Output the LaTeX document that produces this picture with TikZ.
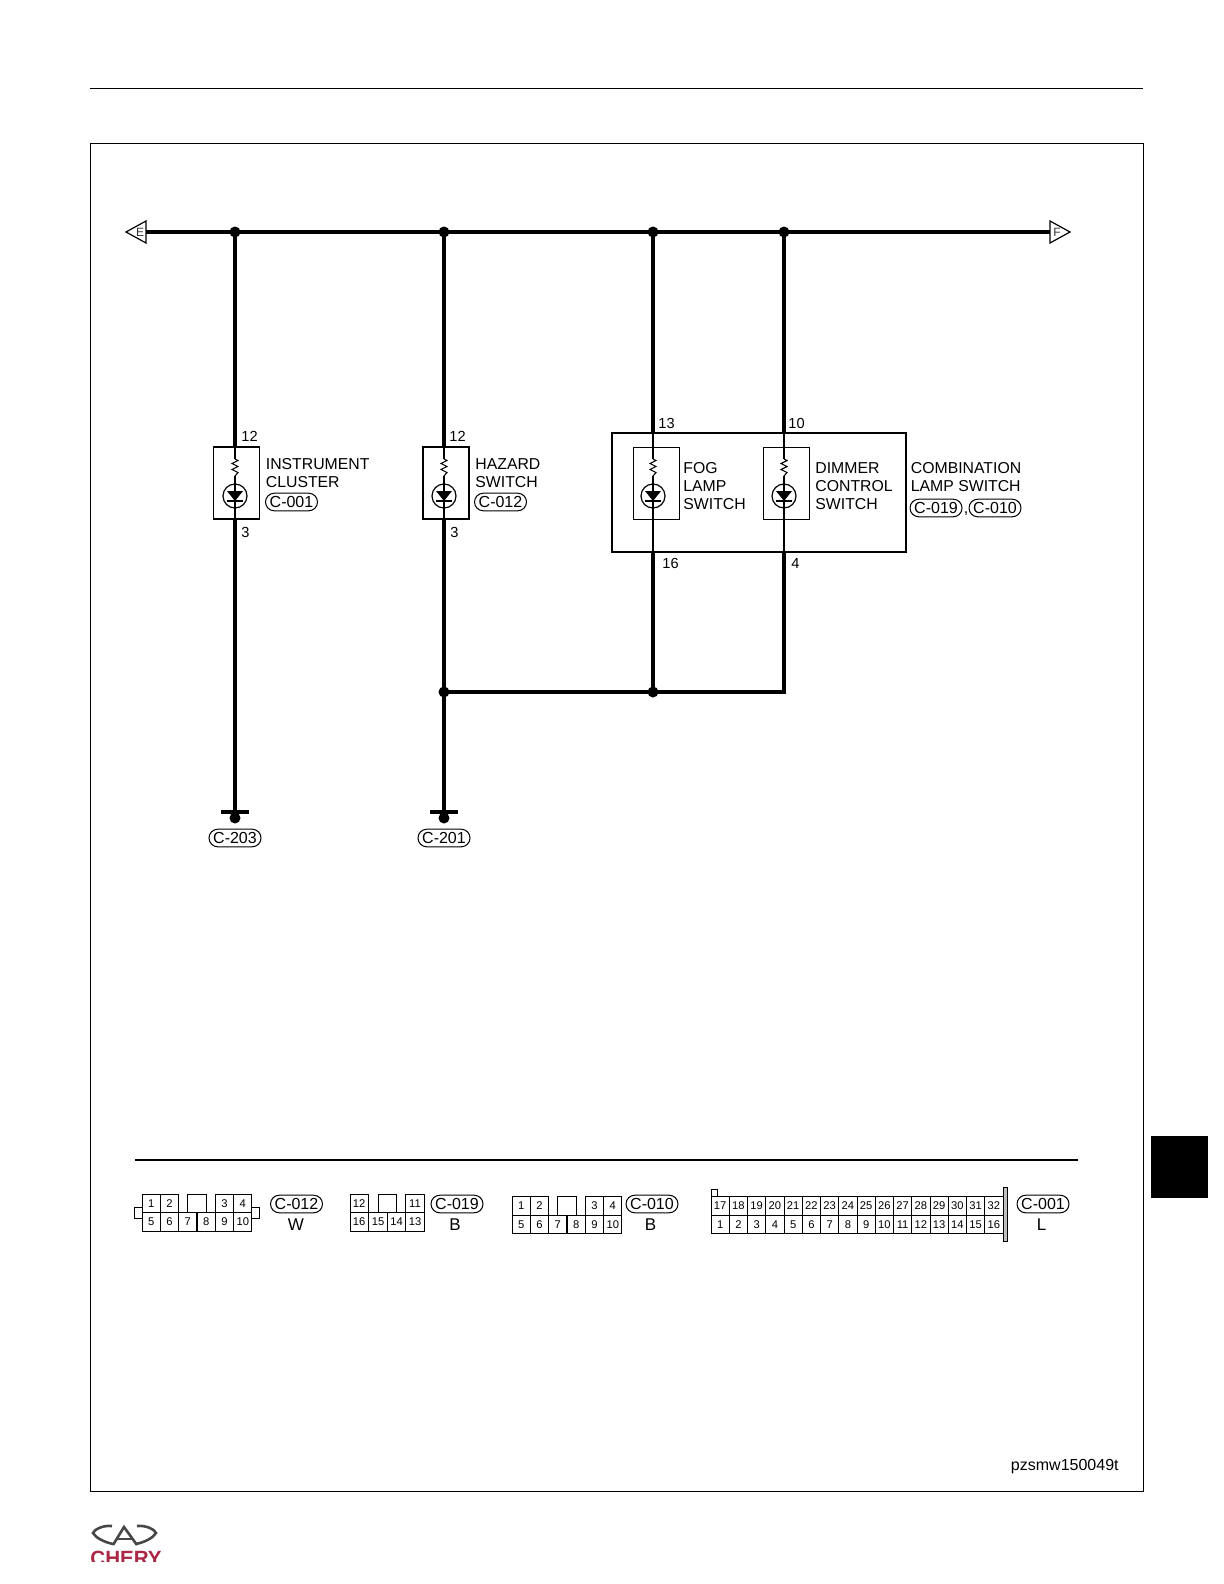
\documentclass[tikz,border=0pt]{standalone}
\usepackage{fontspec}
\setmainfont{Liberation Sans}
\definecolor{logogrey}{RGB}{70,72,72}
\definecolor{logored}{RGB}{170,40,70}

\begin{document}
\begin{tikzpicture}[x=0.5pt,y=-0.5pt]
  \tikzset{bus/.style={line width=2.1pt}};
  \tikzset{wire/.style={line width=1.6pt}};
  \tikzset{thin wire/.style={line width=0.55pt}};
  \tikzset{dot/.style={shape=circle,fill,inner sep=0,outer sep=0,minimum size=5.5pt}};
  \tikzset{lampbox/.style={draw,line width=0.8pt,minimum width=23pt,minimum height=36pt,inner sep=0}};
  \tikzset{txt/.style={anchor=west,inner sep=0,align=left,font=\fontsize{7.9}{9}\selectfont}};
  \tikzset{pin/.style={anchor=west,inner sep=0,font=\fontsize{7.3}{9}\selectfont}};
  \tikzset{tag/.style={draw,line width=0.5pt,rounded corners=4.4pt,minimum width=26pt,minimum height=8.8pt,inner sep=0,font=\fontsize{8}{9}\selectfont}};
  \tikzset{cell/.style={draw,line width=0.5pt,minimum width=9.17pt,minimum height=9.1pt,inner sep=0,font=\fontsize{5.6}{6}\selectfont}};
  \tikzset{letter/.style={inner sep=0,font=\fontsize{8.5}{9}\selectfont}};
  \tikzset{flag/.style={inner sep=0,font=\fontsize{6}{6}\selectfont,text=black!80}};
  \useasboundingbox (0,0) rectangle (1224,1584);
  % page
  \coordinate (ruleL) at (90,88);
  \coordinate (ruleR) at (1143,88);
  \draw[line width=0.45pt] (ruleL) -- (ruleR);
  \draw[line width=0.45pt] (90,143) rectangle (1143,1491);
  \fill (1151,1136) rectangle (1208,1198);
  % bus
  \node[flag] (E) at (140,232) {E};
  \node[flag] (F) at (1057,232) {F};
  \draw[line width=0.6pt] (146,221) -- (126,232) -- (146,243) -- cycle;
  \draw[line width=0.6pt] (1050,221) -- (1070,232) -- (1050,243) -- cycle;
  \coordinate (Eb) at (146,232);
  \coordinate (Fb) at (1050,232);
  \draw[bus] (Eb) -- (Fb);
  \node[dot] (Ja) at (235,232) {};
  \node[dot] (Jb) at (444,232) {};
  \node[dot] (Jc) at (653,232) {};
  \node[dot] (Jd) at (784,232) {};
  % boxes
  \node[lampbox] (IC) at (236.5,483) {};
  \node[lampbox] (HZ) at (446,483) {};
  \node[draw,line width=1.1pt,minimum width=147pt,minimum height=59.5pt,inner sep=0] (CL) at (759,492.5) {};
  \node[lampbox,line width=0.5pt] (FG) at (656,483) {};
  \node[lampbox,line width=0.5pt] (DM) at (786,483) {};
  % lamps
  \foreach \n/\x in {a/235,b/444,c/653,d/784}{
    \coordinate (\n r1) at (\x,459);
    \coordinate (\n r2) at (\x,476);
    \node[draw,shape=circle,line width=0.6pt,minimum size=12pt,inner sep=0] (\n L) at (\x,496) {};
    \draw[thin wire] (\n r1) -- ++(3,1.5) -- ++(-6,3) -- ++(6,3) -- ++(-6,3) -- ++(6,3) -- (\n r2);
    \draw[thin wire] (\n r2) -- (\n L.north);
    \fill (\x-8,491) -- (\x+8,491) -- (\x,501) -- cycle;
    \draw[line width=0.7pt] (\x-8,501) -- (\x+8,501);
  }
  % wires
  \coordinate (at) at (235,447);
  \coordinate (ab) at (235,519);
  \coordinate (bt) at (444,447);
  \coordinate (bb) at (444,519);
  \coordinate (ct) at (653,433);
  \coordinate (cb) at (653,552);
  \coordinate (dt) at (784,433);
  \coordinate (db) at (784,552);
  \coordinate (dj) at (784,692);
  \node[dot] (Gb) at (444,692) {};
  \node[dot] (Gc) at (653,692) {};
  \node[dot] (Ea) at (235,818) {};
  \node[dot] (Eb2) at (444,818) {};
  \draw[wire] (Ja.center) -- (at);
  \draw[wire] (Jb.center) -- (bt);
  \draw[wire] (Jc.center) -- (ct);
  \draw[wire] (Jd.center) -- (dt);
  \draw[thin wire] (at) -- (ar1);
  \draw[thin wire] (bt) -- (br1);
  \draw[thin wire] (ct) -- (cr1);
  \draw[thin wire] (dt) -- (dr1);
  \draw[thin wire] (aL.north) -- (ab);
  \draw[thin wire] (bL.north) -- (bb);
  \draw[thin wire] (cL.north) -- (cb);
  \draw[thin wire] (dL.north) -- (db);
  \draw[wire] (ab) -- (Ea.center);
  \draw[wire] (bb) -- (Gb.center) -- (Eb2.center);
  \draw[wire] (cb) -- (Gc.center);
  \draw[wire] (db) -- (dj) -- (Gb.center);
  % grounds
  \draw[wire] (221,812) -- (249,812);
  \draw[wire] (430,812) -- (458,812);
  \node[tag] (C203) at (235,838) {C-203};
  \node[tag] (C201) at (444,838) {C-201};
  % pin numbers
  \node[pin] (p12a) at (241,436) {12};
  \node[pin] (p3a) at (241,532) {3};
  \node[pin] (p12b) at (449,436) {12};
  \node[pin] (p3b) at (450,532) {3};
  \node[pin] (p13) at (658,423) {13};
  \node[pin] (p10) at (788,423) {10};
  \node[pin] (p16) at (662,563) {16};
  \node[pin] (p4) at (791,563) {4};
  % labels
  \node[txt] (tIC) at (265.5,473) {INSTRUMENT\\CLUSTER};
  \node[tag] (tC001) at (291.5,502) {C-001};
  \node[txt] (tHZ) at (475,473) {HAZARD\\SWITCH};
  \node[tag] (tC012) at (500.5,502) {C-012};
  \node[txt] (tFG) at (683,486) {FOG\\LAMP\\SWITCH};
  \node[txt] (tDM) at (815,486) {DIMMER\\CONTROL\\SWITCH};
  \node[txt] (tCL) at (910.5,477) {COMBINATION\\LAMP SWITCH};
  \node[tag] (tC019) at (936,508) {C-019};
  \node[inner sep=0,font=\fontsize{8}{9}\selectfont] (comma) at (966,514) {,};
  \node[tag] (tC010) at (995,508) {C-010};
  % connector rule
  \coordinate (barL) at (135,1160);
  \coordinate (barR) at (1078,1160);
  \draw[line width=1.2pt] (barL) -- (barR);
  % C-012 W
  \foreach \t/\x in {1/151.2,2/169.5,3/224.5,4/242.8}
    \node[cell] (wt\t) at (\x,1203.5) {\t};
  \node[cell] (wn) at (197,1203.5) {};
  \foreach \t/\x in {5/151.2,6/169.5,7/187.8,8/206.2,9/224.5,10/242.8}
    \node[cell] (wt\t) at (\x,1222) {\t};
  \draw[line width=0.5pt] (142,1207) -- (134,1207) -- (134,1218) -- (142,1218);
  \draw[line width=0.5pt] (252,1207) -- (259,1207) -- (259,1218) -- (252,1218);
  \node[tag] (kC012) at (296.5,1204) {C-012};
  \node[letter] (kW) at (296,1225) {W};
  % C-019 B
  \node[cell] (bt12) at (359.2,1203.5) {12};
  \node[cell] (bn) at (387.5,1203.5) {};
  \node[cell] (bt11) at (415,1203.5) {11};
  \foreach \t/\x in {16/359.2,15/378,14/396.5,13/415}
    \node[cell] (bt\t) at (\x,1222) {\t};
  \node[tag] (kC019) at (457,1204) {C-019};
  \node[letter] (kB) at (455,1225) {B};
  % C-010 B
  \foreach \t/\x in {1/521.2,2/539.5,3/594.5,4/612.8}
    \node[cell] (dt\t) at (\x,1206) {\t};
  \node[cell] (dn) at (567,1206) {};
  \foreach \t/\x in {5/521.2,6/539.5,7/557.8,8/576.2,9/594.5,10/612.8}
    \node[cell] (dt\t) at (\x,1224.5) {\t};
  \node[tag] (kC010) at (652,1204) {C-010};
  \node[letter] (kB2) at (650.5,1225) {B};
  % C-001 L
  \foreach \t in {1,...,16}
    \node[cell,minimum width=9.12pt] (lt\t) at ({711+18.25*(\t-.5)},1224.5) {\t};
  \foreach \t in {17,...,32}
    \node[cell,minimum width=9.12pt] (lt\t) at ({711+18.25*(\t-16.5)},1206) {\t};
  \draw[line width=0.5pt] (711,1197) -- (711,1189) -- (717,1189) -- (717,1197);
  \draw[line width=0.5pt,fill=black!25] (1003,1187) rectangle (1007,1241);
  \node[tag] (kC001) at (1043,1204) {C-001};
  \node[letter] (kL) at (1041.5,1225) {L};
  \node[inner sep=0,anchor=east,font=\fontsize{8}{9}\selectfont] (code) at (1119,1467) {pzsmw150049t};
  % logo
  \draw[logogrey,line width=1.3pt] (112,1526) .. controls (102,1525) and (94,1530) .. (93,1533) .. controls (96,1538) and (104,1542) .. (113,1544);
  \draw[logogrey,line width=1.3pt] (137,1526) .. controls (147,1525) and (155,1530) .. (156,1533) .. controls (153,1538) and (145,1542) .. (136,1544);
  \draw[logogrey,line width=1.3pt] (113,1545) -- (124,1527) -- (137,1545);
  \draw[logogrey,line width=1pt] (116,1539) -- (132,1539);
  \begin{scope}
    \clip (85,1550) rectangle (170,1561);
    \node[inner sep=0,anchor=north west,text=logored,font=\bfseries\fontsize{10.3}{11}\selectfont] (chery) at (90,1551) {CHERY};
  \end{scope}
\end{tikzpicture}
\end{document}
